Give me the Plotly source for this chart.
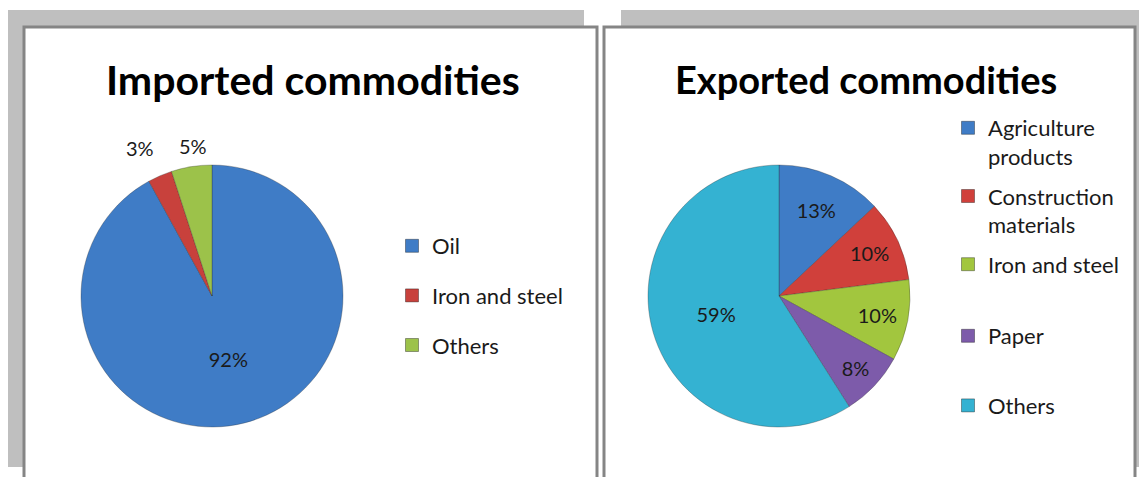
import plotly.graph_objects as go

W, H = 1139, 477

# ---------------- data ----------------
imp_title = "Imported commodities"
imp_labels = ["Oil", "Iron and steel", "Others"]
imp_values = [92, 3, 5]
imp_colors = ["#3F7CC6", "#C8413C", "#9CC24A"]

exp_title = "Exported commodities"
exp_labels = ["Agriculture<br>products", "Construction<br>materials", "Iron and steel", "Paper", "Others"]
exp_values = [13, 10, 10, 8, 59]
exp_colors = ["#3F7CC6", "#D0403B", "#A2C63E", "#7D5BAA", "#34B2D2"]

FONT = "Lato"
TXT = "#1a1a1a"


def px_x(v):
    return v / W


def px_y(v):
    return 1 - v / H


def dom(cx, cy, r):
    return dict(x=[px_x(cx - r), px_x(cx + r)], y=[px_y(cy + r), px_y(cy - r)])


fig = go.Figure()

# imported pie: big slice labelled inside, small slices labelled by annotations above
fig.add_trace(go.Pie(
    labels=imp_labels, values=imp_values, sort=False, direction="clockwise", rotation=0,
    marker=dict(colors=imp_colors, line=dict(color="rgba(40,40,40,0.5)", width=0.6)),
    texttemplate=["%{percent:.0%}", "", ""], textposition="inside",
    insidetextorientation="horizontal",
    textfont=dict(family=FONT, size=20, color=TXT),
    domain=dom(212, 296, 131), showlegend=False, hoverinfo="label+percent",
))

fig.add_trace(go.Pie(
    labels=exp_labels, values=exp_values, sort=False, direction="clockwise", rotation=0,
    marker=dict(colors=exp_colors, line=dict(color="rgba(40,40,40,0.5)", width=0.6)),
    texttemplate="%{percent:.0%}", textposition="inside",
    insidetextorientation="horizontal",
    textfont=dict(family=FONT, size=20, color=TXT),
    domain=dom(779, 296, 131), showlegend=False, hoverinfo="label+percent",
))

# legend entries (square swatches)
for i, (lab, col) in enumerate(zip(imp_labels, imp_colors)):
    fig.add_trace(go.Scatter(
        x=[None], y=[None], mode="markers", name=lab, legend="legend",
        legendgroup=f"imp{i}",
        marker=dict(symbol="square", size=13, color=col, line=dict(color="rgba(0,0,0,0.35)", width=1)),
    ))

for i, (lab, col) in enumerate(zip(exp_labels, exp_colors)):
    fig.add_trace(go.Scatter(
        x=[None], y=[None], mode="markers", name=lab,
        legend="legend2" if i < 3 else "legend3",
        legendgroup=f"exp{i}",
        marker=dict(symbol="square", size=13, color=col, line=dict(color="rgba(0,0,0,0.35)", width=1)),
    ))

shapes = [
    dict(type="rect", xref="paper", yref="paper", x0=px_x(8), x1=px_x(584), y0=px_y(467), y1=px_y(10),
         fillcolor="#BFBFBF", line=dict(width=0), layer="below"),
    dict(type="rect", xref="paper", yref="paper", x0=px_x(621), x1=px_x(1139), y0=px_y(467), y1=px_y(10),
         fillcolor="#BFBFBF", line=dict(width=0), layer="below"),
    dict(type="rect", xref="paper", yref="paper", x0=px_x(24), x1=px_x(597), y0=px_y(495), y1=px_y(27),
         fillcolor="white", line=dict(color="#858585", width=3), layer="below"),
    dict(type="rect", xref="paper", yref="paper", x0=px_x(604), x1=px_x(1135), y0=px_y(495), y1=px_y(27),
         fillcolor="white", line=dict(color="#858585", width=3), layer="below"),
]

annotations = [
    dict(text=f"<b>{imp_title}</b>", xref="paper", yref="paper", x=px_x(313), y=px_y(79),
         xanchor="center", yanchor="middle", showarrow=False,
         font=dict(family=FONT, size=41, color="#000000")),
    dict(text=f"<b>{exp_title}</b>", xref="paper", yref="paper", x=px_x(866), y=px_y(79),
         xanchor="center", yanchor="middle", showarrow=False,
         font=dict(family=FONT, size=38, color="#000000")),
]
# outside labels of the two small imported slices
for v, (lx, ly) in zip(imp_values[1:], [(140, 148), (193, 146)]):
    annotations.append(dict(text=f"{v}%", xref="paper", yref="paper", x=px_x(lx), y=px_y(ly),
                            xanchor="center", yanchor="middle", showarrow=False,
                            font=dict(family=FONT, size=20, color=TXT)))

leg_common = dict(xanchor="left", yanchor="top", bgcolor="rgba(0,0,0,0)",
                  font=dict(family=FONT, size=22, color=TXT), valign="top")

fig.update_layout(
    width=W, height=H,
    margin=dict(l=0, r=0, t=0, b=0),
    paper_bgcolor="white", plot_bgcolor="rgba(0,0,0,0)",
    xaxis=dict(visible=False), yaxis=dict(visible=False),
    shapes=shapes, annotations=annotations,
    legend=dict(x=px_x(392), y=px_y(225), tracegroupgap=18, **leg_common),
    legend2=dict(x=px_x(948), y=px_y(107), tracegroupgap=8, **leg_common),
    legend3=dict(x=px_x(948), y=px_y(315), tracegroupgap=38, **leg_common),
)

fig.write_html("out.html", config={"displayModeBar": False},
               post_script="document.body.style.margin='0px';")
